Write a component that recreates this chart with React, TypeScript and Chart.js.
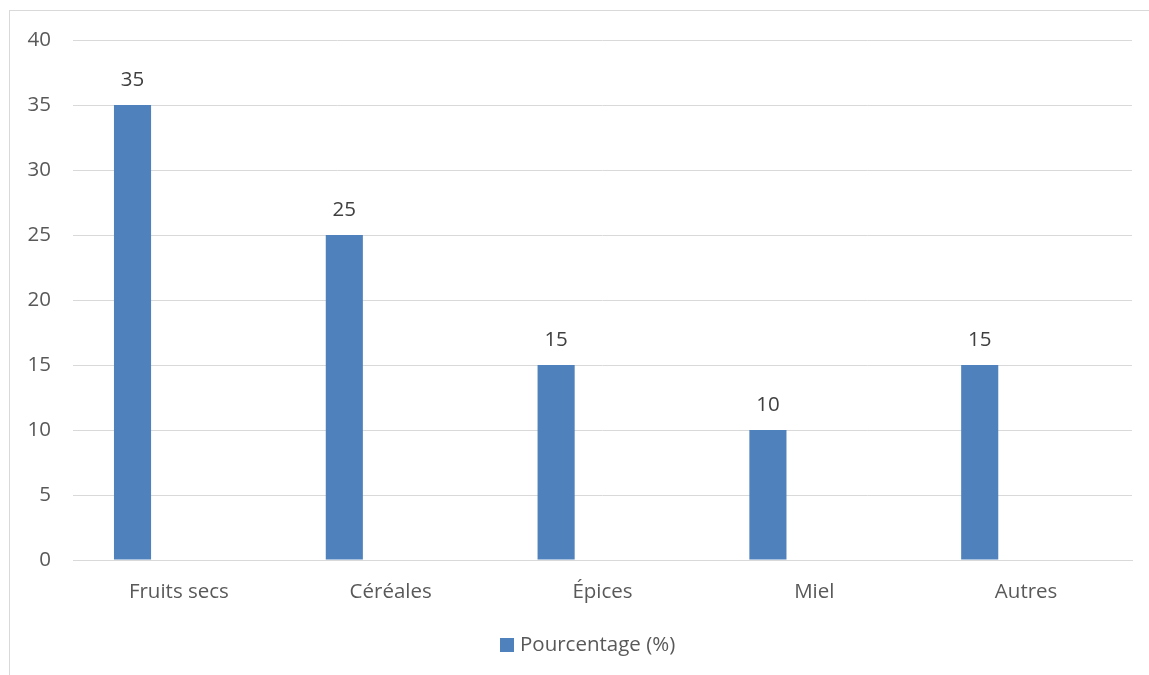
import React, { useEffect, useRef } from "react";
import { Chart, registerables } from "chart.js";

Chart.register(...registerables);

const categories = ["Fruits secs", "Céréales", "Épices", "Miel", "Autres"];
const pourcentage = [35, 25, 15, 10, 15];
const emptySeries = [null, null, null, null, null];
const seriesLabel = "Pourcentage (%)";
const yMin = 0;
const yMax = 40;
const yStep = 5;

const FONT = "'Open Sans', 'DejaVu Sans', sans-serif";
const FS = 20.5;
const BAR_COLOR = "#4F81BD";

const valueLabels = {
  id: "valueLabels",
  afterDatasetsDraw(chart: any) {
    const ctx = chart.ctx;
    const meta = chart.getDatasetMeta(0);
    const data = chart.data.datasets[0].data;
    ctx.save();
    ctx.fillStyle = "#404040";
    ctx.font = `${FS}px ${FONT}`;
    ctx.textAlign = "center";
    ctx.textBaseline = "middle";
    meta.data.forEach((bar: any, i: number) => {
      ctx.fillText(String(data[i]), bar.x, bar.y - 25);
    });
    ctx.restore();
  },
};

const customLegend = {
  id: "customLegend",
  afterDraw(chart: any) {
    const ctx = chart.ctx;
    const ds = chart.data.datasets[0];
    const cy = chart.chartArea.bottom + 85;
    const bx = 500;
    ctx.save();
    ctx.fillStyle = ds.backgroundColor;
    ctx.fillRect(bx, cy - 7, 14, 14);
    ctx.fillStyle = "#595959";
    ctx.font = `${FS}px ${FONT}`;
    ctx.textAlign = "left";
    ctx.textBaseline = "middle";
    ctx.fillText(ds.label, bx + 20, cy);
    ctx.restore();
  },
};

export default function App() {
  const ref = useRef<HTMLCanvasElement | null>(null);
  useEffect(() => {
    if (!ref.current) return;
    const chart = new Chart(ref.current, {
      type: "bar",
      data: {
        labels: categories,
        datasets: [
          {
            label: seriesLabel,
            data: pourcentage,
            backgroundColor: BAR_COLOR,
            borderWidth: 0,
            categoryPercentage: 0.876,
            barPercentage: 0.4,
          },
          {
            label: "",
            data: emptySeries as any,
            backgroundColor: "rgba(0,0,0,0)",
            categoryPercentage: 0.876,
            barPercentage: 0.4,
          },
        ],
      },
      options: {
        animation: false,
        responsive: false,
        maintainAspectRatio: false,
        layout: { padding: { left: 10, right: 17, top: 40, bottom: 49 } },
        plugins: {
          tooltip: { enabled: false },
          legend: { display: false },
        },
        scales: {
          x: {
            grid: { display: false },
            border: { display: true, color: "#D9D9D9", width: 1 },
            ticks: {
              color: "#595959",
              font: { family: FONT, size: FS },
              padding: 12,
              maxRotation: 0,
            },
            afterFit: (scale: any) => {
              scale.height = 66;
            },
          },
          y: {
            min: yMin,
            max: yMax,
            grid: { color: "#D9D9D9", lineWidth: 1, drawTicks: false },
            border: { display: false },
            ticks: {
              stepSize: yStep,
              color: "#595959",
              font: { family: FONT, size: FS },
              padding: 22,
            },
            afterFit: (scale: any) => {
              scale.width = 63;
            },
          },
        },
      },
      plugins: [valueLabels, customLegend],
    });
    return () => chart.destroy();
  }, []);

  return (
    <div
      style={{
        position: "fixed",
        left: 0,
        top: 0,
        width: 1149,
        height: 675,
        overflow: "hidden",
        background: "#ffffff",
      }}
    >
      <div
        style={{
          position: "absolute",
          left: 9,
          top: 10,
          width: 1300,
          height: 800,
          borderLeft: "1px solid #D9D9D9",
          borderTop: "1px solid #D9D9D9",
        }}
      />
      <canvas
        ref={ref}
        width={1149}
        height={675}
        style={{ position: "absolute", left: 0, top: 0, width: 1149, height: 675 }}
      />
    </div>
  );
}
